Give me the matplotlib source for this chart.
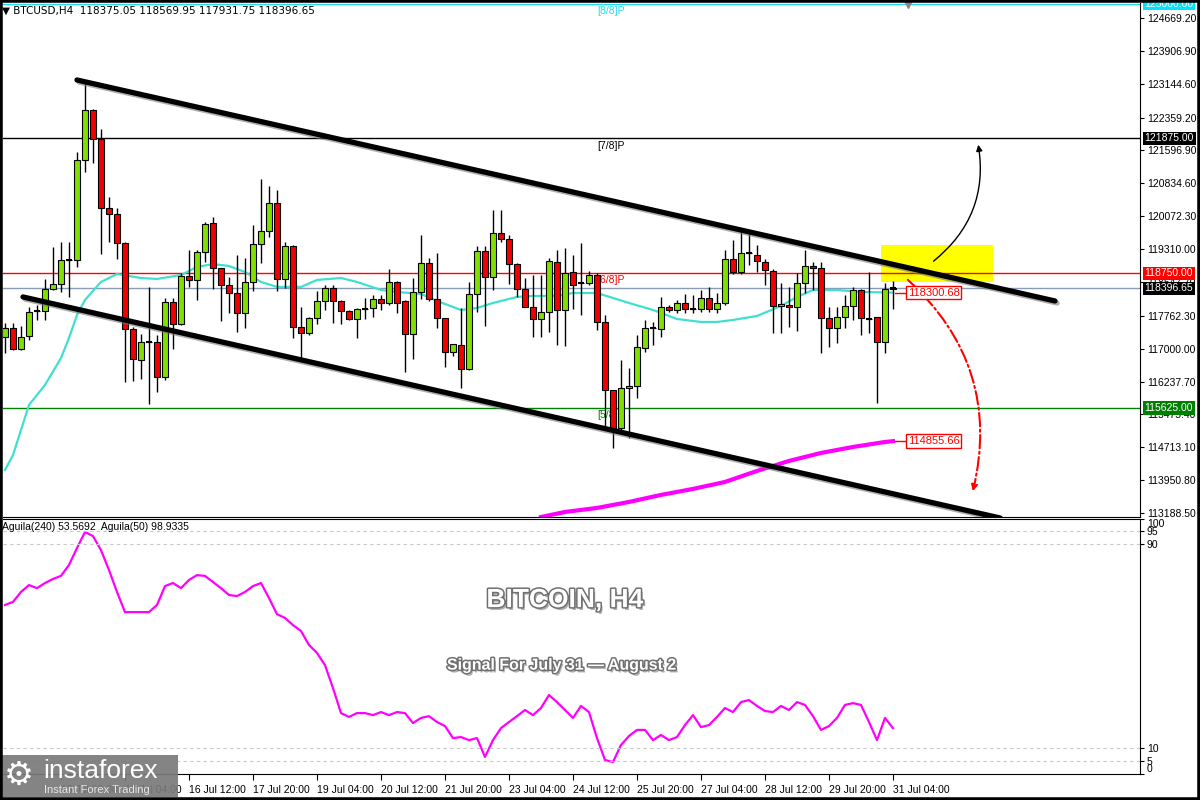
import matplotlib.pyplot as plt
import matplotlib.patheffects as pe
from matplotlib.patches import Rectangle, FancyArrowPatch
import matplotlib.transforms as mtransforms

# candles, BTCUSD H4 (index 0 = 12 Jul 16:00, last = 31 Jul 04:00)
opens = [117272,117480,116993,117295,117875,117875,118385,118501,119057,119057,
         121376,122536,121863,120263,120124,119451,117457,116738,117156,117156,
         116344,118084,117573,118686,118594,119243,119915,118871,118478,118292,
         117828,118548,119428,119730,120379,118617,119382,117504,117364,117712,
         118107,118408,118107,117875,117689,117921,117945,118153,118060,118548,
         118107,117341,118316,118987,118153,117712,116924,117086,116529,118269,
         119266,118664,119683,119544,118964,118385,117968,117689,117852,119011,
         117898,118778,118524,118524,118710,117620,116042,115161,116088,116135,
         117016,117480,117457,117968,117898,118060,117921,117921,118176,117921,
         118060,119080,118778,119220,119173,119011,118801,117991,118014,117968,
         118524,118918,118871,117712,117480,117736,117991,118362,117689,117736,
         117156,118375.05]
highs = [117596,117596,117527,117968,118014,118617,119359,119475,119475,121562,
         123209,122559,122095,120519,120263,119475,117504,117341,118432,117318,
         118176,118176,118755,119289,119289,119939,120055,118880,118664,119173,
         119103,119869,120936,120774,120681,119475,119405,117968,117736,118339,
         118478,118478,118130,117898,117945,118176,118246,118246,118848,118560,
         118130,118640,119637,119103,119220,117720,117109,117945,118548,119382,
         119382,120217,120217,119637,118987,118640,118710,118710,119103,119289,
         119336,119173,119451,118801,118755,117782,116050,116738,116552,117318,
         117666,117620,118200,118014,118130,118269,118246,118362,118432,118292,
         119289,119521,119753,119753,119405,119080,118848,118524,118432,118755,
         119289,119011,119011,117968,117968,118246,118432,118380,118778,117740,
         118524,118569.95]
lows = [116900,116970,116970,117202,117666,117666,118362,118316,118200,118895,
        121099,121306,119196,119475,119080,116228,116251,116297,115718,115996,
        116274,116993,117550,118432,118130,119011,118385,117643,117828,117388,
        117480,118339,118987,119591,118339,118408,117248,116784,117318,117573,
        117898,117596,117573,117666,117248,117689,117736,117898,118014,117828,
        116460,116761,118153,118107,117480,116575,116831,116088,116510,117852,
        117527,118362,119475,118501,118200,117968,117272,117272,117388,117086,
        117063,117921,117782,118478,117434,115161,114697,115115,114929,115857,
        116924,117086,117272,117852,117828,117828,117828,117852,117852,117828,
        118014,118732,118732,118941,118778,118478,117364,117364,117504,117411,
        118292,118362,116900,117040,117132,117480,117666,117318,117364,115741,
        116900,117931.75]
closes = [117480,116993,117272,117852,117870,118385,118501,119057,119050,121376,
          122536,121863,120263,120124,119451,117457,116761,117156,117150,116344,
          118084,117573,118686,118594,119243,119892,118871,118478,118292,117828,
          118548,119428,119730,120379,118617,119382,117504,117364,117712,118107,
          118408,118107,117875,117689,117921,117915,118153,118060,118548,118060,
          117341,118316,118987,118153,117712,116924,117109,116529,118269,119266,
          118664,119683,119544,118964,118385,117968,117689,117852,119034,117898,
          118755,118478,118530,118710,117620,116042,115161,116088,116135,117040,
          117480,117475,117968,117898,118060,117921,117925,118176,117921,118060,
          119080,118778,119220,119215,119034,118825,117991,118037,117968,118524,
          118918,118871,117712,117480,117736,117991,118362,117712,117690,117156,
          118385,118396.65]

# cyan moving average
ma_idx = [0,1,3,5,7,8,9,10,12,14,17,19,22,24,26,28,30,32,34,37,
          39,42,44,47,49,52,54,57,59,61,64,66,69,71,74,76,78,81,84,87,
          89,91,94,97,99,101,104,107,111]
ma_val = [114187,114535,115695,116158,116784,117248,117782,118130,118548,118732,
          118640,118617,118710,118895,118964,118918,118778,118548,118432,118432,
          118594,118640,118548,118362,118316,118269,118107,117898,117945,118060,
          118200,118223,118223,118292,118292,118176,118060,117898,117689,117620,
          117620,117666,117759,117991,118200,118362,118362,118316,118300.68]

# magenta 240 MA
ma240_idx = [67,70,74,78,82,86,90,94,98,102,106,110,111]
ma240_val = [113097,113214,113307,113446,113609,113748,113910,114165,114397,114582,114721,114837,114855.66]

# Murrey levels
levels = [125000, 121875, 118750, 115625]
level_names = ['[8/8]P', '[7/8]P', '[6/8]P', '[5/8]P']
level_colors = ['#20dcf0', 'black', 'red', 'green']
bid = 118396.65

# channel lines (index, price)
upper_ch = [(9.0, 123232), (131.25, 118107)]
lower_ch = [(2.25, 118200), (124.4, 113074)]

# oscillator (lower panel)
osc = [66.1,67.3,71.2,73.9,72.7,74.7,76.3,77.5,81.8,88.4,
       94.7,93.1,87.6,79.8,71.2,63.3,63.3,63.3,63.3,66.1,
       73.5,74.7,72.7,75.9,77.8,77.5,75.1,72.7,70.0,69.6,
       71.2,73.5,74.7,68.8,62.5,61.0,58.2,55.9,50.4,47.3,
       42.5,33.5,23.7,22.2,23.7,23.7,22.9,24.1,22.9,24.1,
       23.7,19.8,21.8,22.5,20.2,18.6,13.9,14.3,13.1,13.9,
       6.5,13.1,17.8,20.2,22.5,24.9,22.9,25.7,30.8,28.0,
       24.9,21.8,26.5,24.1,13.9,5.3,4.5,11.2,14.7,17.1,
       17.1,13.1,15.1,13.1,14.3,19.0,22.9,18.2,19.0,22.2,
       25.7,24.1,28.0,28.8,26.5,24.5,24.1,26.5,24.9,28.0,
       26.9,22.5,17.1,18.6,21.8,26.9,27.6,26.9,20.2,13.1,
       21.8,17.8]

price_ticks = [124669.20,123906.90,123144.60,122359.20,121596.90,120834.60,120072.30,
               119310.00,118547.70,117762.30,117000.00,116237.70,115475.40,114713.10,
               113950.80,113188.50]
time_ticks = [7,15,23,31,39,47,55,63,71,79,87,95,103,111]
time_labels = ['13 Jul 20:00','15 Jul 04:00','16 Jul 12:00','17 Jul 20:00','19 Jul 04:00',
               '20 Jul 12:00','21 Jul 20:00','23 Jul 04:00','24 Jul 12:00','25 Jul 20:00',
               '27 Jul 04:00','28 Jul 12:00','29 Jul 20:00','31 Jul 04:00']

plt.rcParams['font.family'] = ['Liberation Sans', 'DejaVu Sans']

fig = plt.figure(figsize=(12, 8), dpi=100)
ax = fig.add_axes([0.0025, 0.35375, 0.9475, 0.6425])
ax2 = fig.add_axes([0.0025, 0.0331, 0.9475, 0.31875])
xlim = (-0.25, 141.875)

# ---- main panel ----
n = len(opens)
idx = list(range(n))
ax.add_patch(Rectangle((109.5, 118548), 14, 857, facecolor='#ffff00', edgecolor='none', zorder=1))

for lv, nm, c in zip(levels, level_names, level_colors):
    ax.axhline(lv, color=c, lw=1, zorder=1.5)
    ax.annotate(nm, (74, lv), xytext=(0, -1.5), textcoords='offset points', color=c,
                fontsize=7.5, va='top', ha='left', zorder=1.6)
ax.axhline(bid, color='#8a9bb5', lw=1, zorder=1.5)

ax.plot(ma_idx, ma_val, color='#40e0d0', lw=1.6, zorder=2)
ax.plot(ma240_idx, ma240_val, color='#ff00ff', lw=3, zorder=2)

ax.vlines(idx, lows, highs, color='black', lw=1, zorder=3)
body_col, body_bot, body_h = [], [], []
for o, c in zip(opens, closes):
    body_col.append('#7fe000' if c >= o else '#f00000')
    body_bot.append(min(o, c))
    body_h.append(abs(c - o))
ax.bar(idx, body_h, bottom=body_bot, width=0.75, color=body_col, edgecolor='black',
       linewidth=0.8, zorder=4)
doji = [i for i in idx if abs(closes[i] - opens[i]) < 30]
ax.hlines([closes[i] for i in doji], [i - 0.4 for i in doji], [i + 0.4 for i in doji],
          color='black', lw=1.5, zorder=4)

shadow = [pe.SimpleLineShadow(offset=(1.5, -1.5), shadow_color='#777777', alpha=0.6), pe.Normal()]
for seg in (upper_ch, lower_ch):
    ax.plot([p[0] for p in seg], [p[1] for p in seg], color='black', lw=3.8,
            solid_capstyle='round', path_effects=shadow, zorder=5)

ax.add_patch(FancyArrowPatch((115.8, 118990), (121.6, 121794), connectionstyle='arc3,rad=0.3',
                             arrowstyle='-|>', mutation_scale=9, color='black', lw=1, zorder=6))
ax.add_patch(FancyArrowPatch((112.6, 118640), (120.9, 113630), connectionstyle='arc3,rad=-0.3',
                             arrowstyle='-|>', mutation_scale=9, color='red', lw=1.5,
                             linestyle='-.', zorder=6))

for v in (ma_val[-1], ma240_val[-1]):
    ax.plot([111.3, 112.7], [v, v], color='red', lw=1, zorder=6)
    ax.text(112.85, v, '%.2f' % v, color='red', fontsize=8, va='center', ha='left',
            bbox=dict(facecolor='white', edgecolor='red', pad=1.2, lw=1), zorder=7)

ax.plot([112.9], [124990], marker='v', color='#888888', ms=6, clip_on=False, zorder=7)

ax.set_xlim(*xlim)
ax.set_ylim(113097, 125017)
ax.set_xticks([])
ax.yaxis.tick_right()
ax.set_yticks(price_ticks)
ax.set_yticklabels(['%.2f' % t for t in price_ticks])
ax.tick_params(axis='y', labelsize=7.5, length=3, pad=2, direction='out')
for s in ('top', 'left'):
    ax.spines[s].set_visible(False)

tr = mtransforms.blended_transform_factory(ax.transAxes, ax.transData)
box_lv = [(125000, '#00e5ff'), (121875, 'black'), (118750, 'red'), (bid, 'black'), (115625, 'green')]
for v, c in box_lv:
    ax.text(1.004, v, '%.2f' % v, transform=tr, color='white', fontsize=7.5, va='center',
            ha='left', bbox=dict(facecolor=c, edgecolor='none', pad=1.2), clip_on=False, zorder=8)

# ---- lower panel ----
ax2.plot(idx, osc, color='#ff00ff', lw=1.6)
for g in (95, 90, 10, 5):
    ax2.axhline(g, color='#c8c8c8', lw=0.8, ls=(0, (3, 3)))
ax2.set_xlim(*xlim)
ax2.set_ylim(0, 100)
ax2.yaxis.tick_right()
ax2.set_yticks([0, 5, 10, 90, 95, 100])
ax2.set_yticklabels(['0', '5', '10', '90', '95', '100'])
ax2.tick_params(axis='y', labelsize=7.5, length=3, pad=2)
ylabs = ax2.get_yticklabels()
ylabs[-1].set_va('top')
ylabs[0].set_va('bottom')
ax2.set_xticks(time_ticks)
ax2.set_xticklabels(time_labels, ha='left')
ax2.tick_params(axis='x', labelsize=7.5, length=4, pad=4)
ax2.spines['left'].set_visible(False)

ttl_fx = [pe.SimplePatchShadow(offset=(1.5, -2), shadow_rgbFace='#9a9a9a', alpha=0.8),
          pe.Stroke(linewidth=2.2, foreground='#707070'), pe.Normal()]
ax2.text(0.494, 0.68, 'BITCOIN, H4', transform=ax2.transAxes, fontsize=19, weight='bold',
         color='white', ha='center', va='center', path_effects=ttl_fx)
ax2.text(0.492, 0.425, 'Signal For July 31 \u2014 August 2', transform=ax2.transAxes, fontsize=11.5,
         weight='bold', color='white', ha='center', va='center', path_effects=ttl_fx)

# headers
fig.text(0.002, 1 - 11 / 800, '\u25bc BTCUSD,H4  118375.05 118569.95 117931.75 118396.65',
         fontsize=7.5, va='center', family=['DejaVu Sans'])
fig.text(0.002, 1 - 527 / 800, 'Aguila(240) 53.5692  Aguila(50) 98.9335', fontsize=7.5, va='center')

# logo
fig.patches.append(Rectangle((0, 0.004), 0.148, 0.0525, transform=fig.transFigure,
                             facecolor='#7a7a7a', alpha=0.92, edgecolor='none', zorder=10))
fig.text(0.016, 0.031, '\u2699', color='white', fontsize=24, ha='center', va='center',
         family=['DejaVu Sans'], zorder=11)
fig.text(0.036, 0.036, 'instaforex', color='white', fontsize=19, va='center', zorder=11)
fig.text(0.037, 0.013, 'Instant Forex Trading', color='#e6e6e6', fontsize=8, va='center', zorder=11)

# outer frame
fig.patches.append(Rectangle((0, 0), 1, 1, transform=fig.transFigure, fill=False,
                             edgecolor='black', lw=4, zorder=12))

fig.savefig('out.png', dpi=100)
